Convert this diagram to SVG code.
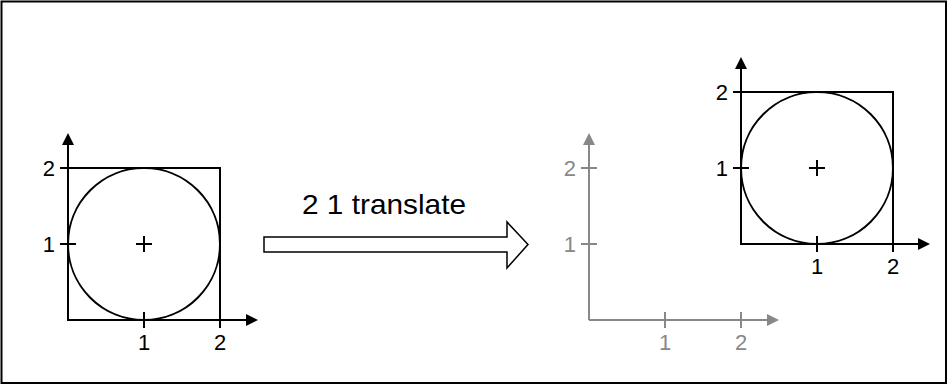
<svg xmlns="http://www.w3.org/2000/svg" width="948" height="385" viewBox="0 0 948 385">
<defs>
<style>
.k{stroke:#000;stroke-width:2;fill:none}
.g{stroke:#888;stroke-width:2;fill:none}
.lk{font-family:"Liberation Sans",Arial,sans-serif;font-size:22px;fill:#000}
.lg{font-family:"Liberation Sans",Arial,sans-serif;font-size:22px;fill:#888}
.c{text-anchor:middle}
.e{text-anchor:end}
</style>
<marker id="ak" markerUnits="userSpaceOnUse" markerWidth="12" markerHeight="12" refX="2" refY="6" orient="auto"><path d="M0,0 L12,6 L0,12 z" fill="#000"/></marker>
<marker id="ag" markerUnits="userSpaceOnUse" markerWidth="12" markerHeight="12" refX="2" refY="6" orient="auto"><path d="M0,0 L12,6 L0,12 z" fill="#888"/></marker>
</defs>
<rect x="0" y="0" width="948" height="385" fill="#fff"/>
<rect x="1.5" y="1.5" width="944.5" height="381.5" fill="none" stroke="#000" stroke-width="2"/>

<g id="before">
<path class="k" d="M68,320 V143" marker-end="url(#ak)"/>
<path class="k" d="M68,320 H248" marker-end="url(#ak)"/>
<rect class="k" x="68" y="168" width="152" height="152"/>
<circle class="k" cx="144" cy="244" r="76"/>
<path class="k" d="M60,244 H76 M60,168 H76 M144,312 V328 M220,312 V328 M136,244 H152 M144,236 V252"/>
<text class="lk e" x="55" y="176">2</text>
<text class="lk e" x="55" y="252">1</text>
<text class="lk c" x="144" y="350">1</text>
<text class="lk c" x="220" y="350">2</text>
</g>

<g id="translate-arrow">
<polygon points="264,237 507,237 507,222 528,244.5 507,268 507,252 264,252" fill="#fff" stroke="#000" stroke-width="1.5"/>
<text x="302" y="214" font-family="Liberation Sans, Arial, sans-serif" font-size="28" textLength="164" lengthAdjust="spacingAndGlyphs">2 1 translate</text>
</g>

<g id="old-axes">
<path class="g" d="M589,320 V143" marker-end="url(#ag)"/>
<path class="g" d="M589,320 H769" marker-end="url(#ag)"/>
<path class="g" d="M581,244 H597 M581,168 H597 M665,312 V328 M741,312 V328"/>
<text class="lg e" x="576" y="176">2</text>
<text class="lg e" x="576" y="252">1</text>
<text class="lg c" x="665" y="350">1</text>
<text class="lg c" x="741" y="350">2</text>
</g>

<g id="after">
<path class="k" d="M741,244 V67" marker-end="url(#ak)"/>
<path class="k" d="M741,244 H920" marker-end="url(#ak)"/>
<rect class="k" x="741" y="92" width="152" height="152"/>
<circle class="k" cx="817" cy="168" r="76"/>
<path class="k" d="M733,168 H749 M733,92 H749 M817,236 V252 M893,236 V252 M809,168 H825 M817,160 V176"/>
<text class="lk e" x="728" y="100">2</text>
<text class="lk e" x="728" y="176">1</text>
<text class="lk c" x="817" y="274">1</text>
<text class="lk c" x="893" y="274">2</text>
</g>
</svg>
